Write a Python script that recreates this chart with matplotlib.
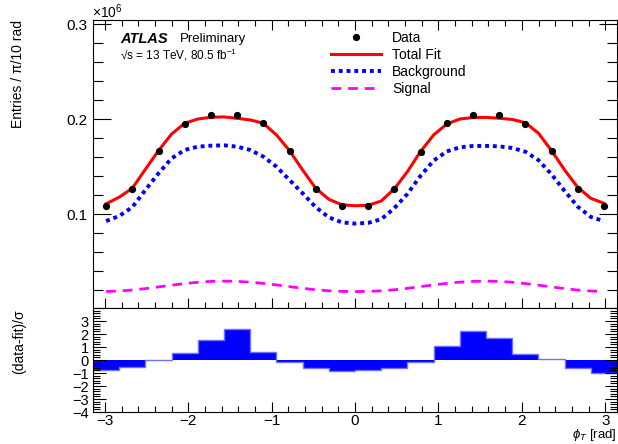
import numpy as np
import matplotlib
matplotlib.use("Agg")
import matplotlib.pyplot as plt
from matplotlib.lines import Line2D
from matplotlib.ticker import MultipleLocator, FixedLocator

plt.rcParams['font.family'] = ['Liberation Sans', 'DejaVu Sans']
plt.rcParams['mathtext.fontset'] = 'custom'
plt.rcParams['mathtext.rm'] = 'Liberation Sans'
plt.rcParams['mathtext.it'] = 'Liberation Sans:italic'
plt.rcParams['mathtext.bf'] = 'Liberation Sans:bold'

# entries per bin, in units of 1e6
data_y = [0.1084, 0.1270, 0.1666, 0.1950, 0.2040, 0.2045, 0.1960, 0.1670, 0.1270, 0.1084,
          0.1084, 0.1270, 0.1655, 0.1965, 0.2040, 0.2042, 0.1955, 0.1666, 0.1270, 0.1084]

# fit curves sampled every pi/20 from -19pi/20 to 19pi/20
fit_total = [0.1110, 0.1180, 0.1274, 0.1474, 0.1670, 0.1845, 0.1958, 0.2003, 0.2021, 0.2025,
             0.2010, 0.1993, 0.1958, 0.1835, 0.1670, 0.1466, 0.1274, 0.1158, 0.1100, 0.1090,
             0.1095, 0.1140, 0.1268, 0.1449, 0.1660, 0.1835, 0.1950, 0.2003, 0.2018, 0.2020,
             0.2011, 0.1998, 0.1964, 0.1853, 0.1670, 0.1466, 0.1284, 0.1168, 0.1116]
fit_bkg = [0.0929, 0.0982, 0.1075, 0.1256, 0.1431, 0.1589, 0.1677, 0.1712, 0.1722, 0.1726,
           0.1712, 0.1677, 0.1607, 0.1501, 0.1361, 0.1221, 0.1075, 0.0968, 0.0915, 0.0902,
           0.0910, 0.0948, 0.1065, 0.1215, 0.1405, 0.1565, 0.1662, 0.1705, 0.1719, 0.1720,
           0.1715, 0.1698, 0.1659, 0.1570, 0.1420, 0.1245, 0.1080, 0.0972, 0.0928]
fit_sig = [0.0188, 0.0193, 0.0203, 0.0218, 0.0236, 0.0254, 0.0271, 0.0285, 0.0294, 0.0297,
           0.0294, 0.0286, 0.0273, 0.0257, 0.0239, 0.0221, 0.0206, 0.0195, 0.0189, 0.0187,
           0.0189, 0.0195, 0.0206, 0.0221, 0.0239, 0.0257, 0.0273, 0.0286, 0.0294, 0.0297,
           0.0294, 0.0285, 0.0271, 0.0254, 0.0236, 0.0218, 0.0203, 0.0193, 0.0188]

# (data-fit)/sigma per bin
pull = [-0.80, -0.57, 0.02, 0.57, 1.53, 2.39, 0.60, -0.13, -0.65, -0.83,
        -0.78, -0.65, -0.15, 1.06, 2.23, 1.69, 0.47, 0.08, -0.65, -1.00]

edges = np.linspace(-np.pi, np.pi, len(data_y) + 1)
centers = 0.5 * (edges[1:] + edges[:-1])
phi_fit = np.linspace(-19 * np.pi / 20, 19 * np.pi / 20, len(fit_total))

fig = plt.figure(figsize=(6.18, 4.44), dpi=100)
ax1 = fig.add_axes([0.1505, 0.3063, 0.848, 0.6487])
ax2 = fig.add_axes([0.1505, 0.072, 0.848, 0.2343], sharex=ax1)

# ---- top panel ----
ax1.plot(phi_fit, fit_sig, color='#ff00ff', lw=2.0, ls=(0, (3.5, 2.5)))
ax1.plot(phi_fit, fit_bkg, color='#0000ff', lw=2.8, ls=(0, (1, 1)))
ax1.plot(phi_fit, fit_total, color='#ff0000', lw=2.2)
ax1.plot(centers, data_y, 'o', color='black', ms=4.2, zorder=5)

ax1.set_xlim(-np.pi, np.pi)
ax1.set_ylim(0.0014, 0.3045)
ax1.yaxis.set_major_locator(FixedLocator([0.0, 0.1, 0.2, 0.3]))
ax1.yaxis.set_minor_locator(MultipleLocator(0.02))
ax1.set_yticklabels(['', '0.1', '0.2', '0.3'])
ax1.xaxis.set_major_locator(MultipleLocator(1))
ax1.xaxis.set_minor_locator(MultipleLocator(0.2))
ax1.tick_params(axis='x', labelbottom=False)
ax1.tick_params(which='both', direction='in', top=True, right=True, labelsize=11, width=0.8)
ax1.tick_params(axis='y', which='major', length=13, pad=4)
ax1.tick_params(axis='y', which='minor', length=7)
ax1.tick_params(axis='x', which='major', length=7)
ax1.tick_params(axis='x', which='minor', length=4)

handles = [
    Line2D([], [], marker='o', color='black', ls='none', ms=4.2),
    Line2D([], [], color='#ff0000', lw=2.2),
    Line2D([], [], color='#0000ff', lw=2.8, ls=(0, (1, 1))),
    Line2D([], [], color='#ff00ff', lw=2.0, ls=(0, (3.5, 2.5))),
]
ax1.legend(handles, ['Data', 'Total Fit', 'Background', 'Signal'],
           loc='upper left', bbox_to_anchor=(0.455, 0.962), frameon=False,
           fontsize=10, handlelength=3.6, handletextpad=0.75, labelspacing=0.22,
           borderpad=0, borderaxespad=0)

fig.text(120 / 618, 1 - 39 / 444, 'ATLAS', fontsize=10.5, fontweight='bold',
         fontstyle='italic', va='center', ha='left')
fig.text(180 / 618, 1 - 39 / 444, 'Preliminary', fontsize=9.5, va='center', ha='left')
fig.text(120 / 618, 1 - 55 / 444, '√s = 13 TeV, 80.5 fb$^{-1}$', fontsize=8.5,
         va='center', ha='left')
fig.text(92 / 618, 1 - 12 / 444, r'$\times10^{6}$', fontsize=10, va='center', ha='left')
fig.text(18 / 618, 1 - 20 / 444, 'Entries / π/10 rad', fontsize=10, rotation=90,
         va='top', ha='center')

# ---- bottom panel ----
ax2.stairs(pull, edges, baseline=0, fill=True, color='#0000ff')
ax2.stairs(pull, edges, baseline=0, color='#7070ff', lw=1.0)
ax2.set_ylim(-4, 4)
ax2.yaxis.set_major_locator(FixedLocator([-4, -3, -2, -1, 0, 1, 2, 3]))
ax2.yaxis.set_minor_locator(MultipleLocator(0.2))
ax2.set_xticks([-3, -2, -1, 0, 1, 2, 3])
ax2.xaxis.set_minor_locator(MultipleLocator(0.2))
ax2.tick_params(which='both', direction='in', top=False, right=True, labelsize=10.5, width=0.8)
ax2.tick_params(axis='y', which='major', length=9, pad=3)
ax2.tick_params(axis='y', which='minor', length=5)
ax2.tick_params(axis='x', which='major', length=7, pad=1.5)
ax2.tick_params(axis='x', which='minor', length=4)
ax2.tick_params(axis='x', labelsize=11)

fig.text(19 / 618, 1 - 309 / 444, '(data-fit)/σ', fontsize=10, rotation=90,
         va='top', ha='center')
fig.text(617 / 618, 1 - 443 / 444, r'$\phi_{T}$ [rad]', fontsize=9.5,
         va='bottom', ha='right')

fig.savefig('out.png', dpi=100)
